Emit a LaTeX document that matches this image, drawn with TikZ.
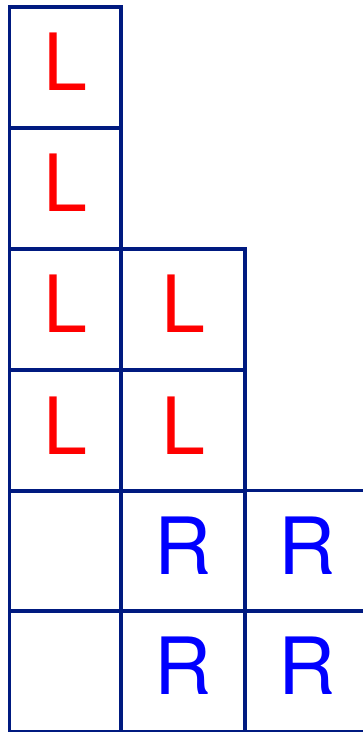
\documentclass[tikz,border=0pt]{standalone}
\usepackage{fontspec}
\newfontfamily\cellfont{TeX Gyre Heros}
\usepackage{tikz}
\usetikzlibrary{positioning,calc}
\definecolor{gridblue}{RGB}{0,26,128}
\tikzset{
  cell/.style ={rectangle, draw=gridblue, line width=3.5pt, inner sep=0pt,
    minimum height=121pt, text height=57pt, text depth=10pt,
    font=\cellfont\fontsize{79}{95}\selectfont},
  col_1/.style={cell, minimum width=111.5pt},
  col_2/.style={cell, minimum width=124pt},
  col_3/.style={cell, minimum width=125pt},
  left_l/.style ={text=red},
  right_r/.style={text=blue}}

\begin{document}
\begin{tikzpicture}[x=1pt,y=-1pt]

\useasboundingbox (0,0) rectangle (362,732);

%COLUMN 1
\node[col_1, left_l](a1) at (65.25,67.25) {L};
\node[col_1, left_l](a2) at (65.25,188) {L};
\node[col_1, left_l](a3) at (65.25,309.25) {L};
\node[col_1, left_l](a4) at (65.25,430.5) {L};
\node[col_1](a5) at (65.25,551) {};
\node[col_1](a6) at (65.25,671.25) {};

%COLUMN 2
\node[col_2, left_l](b3) at (183,309.25) {L};
\node[col_2, left_l](b4) at (183,430.5) {L};
\node[col_2, right_r](b5) at (183,551) {R};
\node[col_2, right_r](b6) at (183,671.25) {R};

%COLUMN 3
\node[col_3, right_r](c5) at (307.5,551) {R};
\node[col_3, right_r](c6) at (307.5,671.25) {R};

\end{tikzpicture}
\end{document}
